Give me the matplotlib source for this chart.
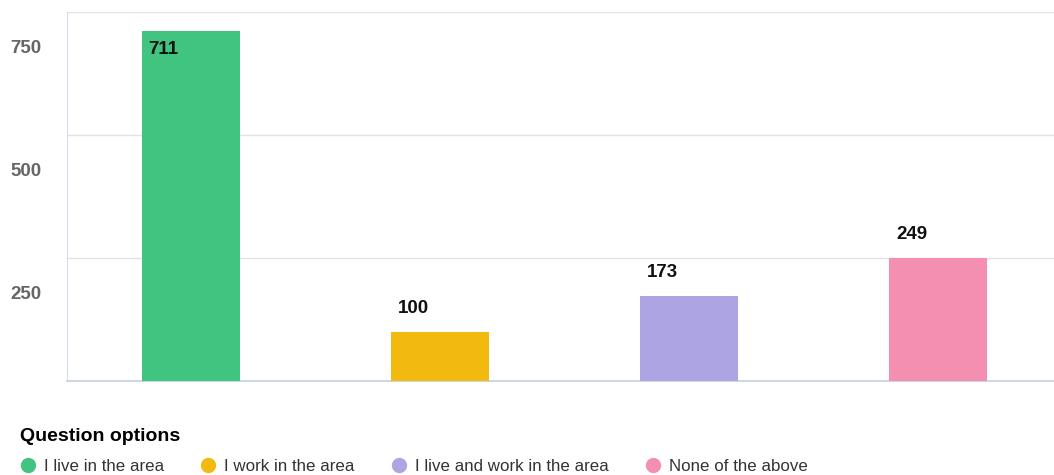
import matplotlib.pyplot as plt
import matplotlib.transforms as mtransforms
from matplotlib.lines import Line2D

plt.rcParams['font.family'] = ['Liberation Sans', 'DejaVu Sans']

categories = ['I live in the area', 'I work in the area', 'I live and work in the area', 'None of the above']
counts = [711, 100, 173, 249]
colors = ['#40C47F', '#F2B90F', '#ADA4E4', '#F48FB1']
yticks = [250, 500, 750]

W, H = 1054, 475
fig = plt.figure(figsize=(W / 100, H / 100), dpi=100)
# axes spans 66..1062 px horizontally (runs slightly past the right edge), 12..381 vertically
ax = fig.add_axes([66.5 / W, (H - 381) / H, 996 / W, (381 - 12) / H])

x = range(len(categories))
bw = 0.394
bars = ax.bar(x, counts, width=bw, color=colors, zorder=3)
ax.set_xlim(-0.5, 3.5)
ax.set_ylim(0, 750)

ax.set_yticks(yticks)
ax.set_yticklabels([str(t) for t in yticks], fontsize=13.5, fontweight='bold', color='#666666')
ax.tick_params(axis='y', length=0, pad=18)
ax.set_xticks([])
# labels sit below their gridlines in the reference
off = mtransforms.ScaledTranslation(0, -0.345, fig.dpi_scale_trans)
for lbl in ax.get_yticklabels():
    lbl.set_transform(lbl.get_transform() + off)

ax.grid(axis='y', color='#E3E3E3', linewidth=1, zorder=0)
for s in ['top', 'right']:
    ax.spines[s].set_visible(False)
ax.spines['left'].set_color('#D5DDE8')
ax.spines['bottom'].set_color('#C9D3E0')
ax.spines['bottom'].set_linewidth(1.3)

for i, v in enumerate(counts):
    left = i - bw / 2
    if v > 600:
        t = mtransforms.ScaledTranslation(6 / 100, -10 / 100, fig.dpi_scale_trans)
        ax.text(left, v, str(v), transform=ax.transData + t, ha='left', va='top',
                fontsize=13.5, fontweight='bold', color='#111111', zorder=4)
    else:
        t = mtransforms.ScaledTranslation(7 / 100, 15 / 100, fig.dpi_scale_trans)
        ax.text(left, v, str(v), transform=ax.transData + t, ha='left', va='bottom',
                fontsize=13.5, fontweight='bold', color='#111111', zorder=4)

handles = [Line2D([], [], marker='o', linestyle='', markersize=10, markerfacecolor=c,
                  markeredgecolor=c) for c in colors]
leg = fig.legend(handles, categories, loc='upper left', bbox_to_anchor=(6 / W, 1 - 414 / H),
                 ncol=4, frameon=False, title='Question options', alignment='left',
                 prop={'size': 12.2}, title_fontproperties={'size': 14, 'weight': 'bold'},
                 handletextpad=0.45, columnspacing=2.1, handlelength=1.0, borderpad=0.3,
                 labelspacing=0.85)
for t in leg.get_texts():
    t.set_color('#333333')

fig.savefig('out.png', dpi=100)
